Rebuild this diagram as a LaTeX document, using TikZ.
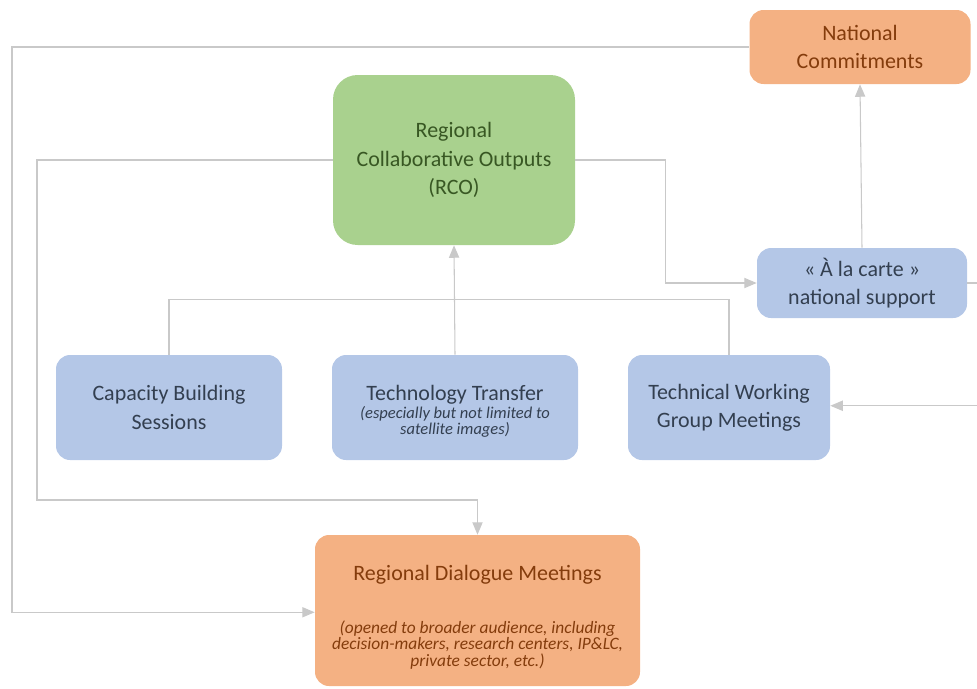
\documentclass[tikz,border=0pt]{standalone}
\usepackage{fontspec}
\setmainfont{Carlito}
\usetikzlibrary{arrows}
\definecolor{orfill}{HTML}{F4B183}
\definecolor{ortext}{HTML}{843C0C}
\definecolor{grfill}{HTML}{A9D18E}
\definecolor{grtext}{HTML}{385723}
\definecolor{blfill}{HTML}{B4C7E7}
\definecolor{bltext}{HTML}{333F50}
\definecolor{wire}{HTML}{C9C9C9}
\tikzset{box/.style={rounded corners=8pt, align=center, inner sep=0pt, font=\fontsize{12.5}{16}\selectfont}}
\tikzset{orange/.style={box, fill=orfill, text=ortext}}
\tikzset{green/.style={box, fill=grfill, text=grtext, rounded corners=14pt}}
\tikzset{blue/.style={box, fill=blfill, text=bltext}}
\newcommand{\smallit}[1]{{\fontsize{9.4}{10}\selectfont\itshape #1}}
\newcommand{\noteit}[1]{{\fontsize{9.9}{10}\selectfont\itshape #1}}
\tikzset{
link/.style={draw=wire, line width=0.6pt}, flow/.style={link, -triangle 45}
}

\begin{document}
\begin{tikzpicture}
    \useasboundingbox (0,0) rectangle (19.54,-13.76);
    \coordinate (N) at (17.2,-0.94);
    \coordinate (R) at (9.08,-3.2);
    \coordinate (A) at (17.24,-5.66);
    \coordinate (C) at (3.38,-8.15);
    \coordinate (T) at (9.1,-8.15);
    \coordinate (W) at (14.58,-8.15);
    \coordinate (D) at (9.55,-12.21);
    \node [orange, minimum width=4.42cm, minimum height=1.48cm] (nat) at (N) {National\\Commitments};
    \node [green, minimum width=4.84cm, minimum height=3.4cm] (rco) at (R) {Regional\\Collaborative Outputs\\(RCO)};
    \node [blue, minimum width=4.2cm, minimum height=1.4cm] (carte) at (A) {« À la carte »\\national support};
    \node [blue, minimum width=4.52cm, minimum height=2.1cm] (cb) at (C) {Capacity Building\\Sessions};
    \node [blue, minimum width=4.92cm, minimum height=2.1cm] (tt) at (T) {\rule{0pt}{13pt}Technology Transfer\\[-5.8pt]\smallit{(especially but not limited to}\\[-6.4pt]\smallit{satellite images)}};
    \node [blue, minimum width=4.04cm, minimum height=2.1cm] (twg) at (W) {Technical Working\\Group Meetings};
    \node [orange, minimum width=6.5cm, minimum height=3.02cm] (rdm) at (D) {\rule{0pt}{16pt}Regional Dialogue Meetings\\[14pt]\noteit{(opened to broader audience, including}\\[-6.6pt]\noteit{decision-makers, research centers, IP\&LC,}\\[-6.6pt]\noteit{private sector, etc.)}};
    % loops round the outside
    \coordinate (o1) at (0.24,-0.94);
    \coordinate (o2) at (0.74,-10);
    \coordinate (o3) at (20.2,-8.1);
    \draw[flow] (nat.west) -- (o1) |- ([yshift=-1pt]rdm.west);
    \draw[flow] (rco.west) -| (o2) -| (rdm.north);
    \draw[flow] (rco.east) -- ++(1.8,0) |- (carte.west);
    \draw[flow] (carte.north) -- (nat.south);
    \draw[flow] (carte.east) -| (o3) |- ([yshift=1pt]twg.east);
    % sessions feed the outputs
    \draw[link] (cb.north) -- ++(0,1.1) -| (twg.north);
    \draw[flow] (tt.north) -- (rco.south);
  \end{tikzpicture}
\end{document}
